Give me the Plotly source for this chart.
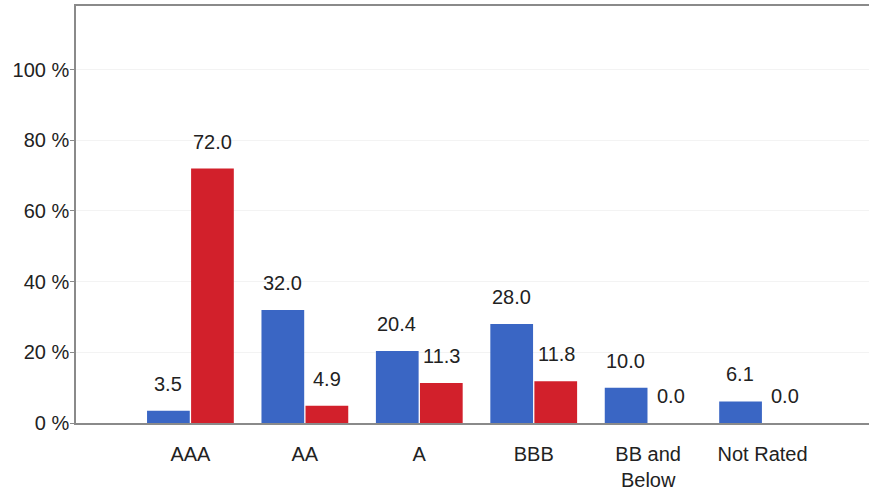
import plotly.graph_objects as go

categories = ["AAA", "AA", "A", "BBB", "BB and<br>Below", "Not Rated"]
series_blue = [3.5, 32.0, 20.4, 28.0, 10.0, 6.1]
series_red = [72.0, 4.9, 11.3, 11.8, 0.0, 0.0]
y_tickvals = [0, 20, 40, 60, 80, 100]
y_ticktext = [f"{v} %" for v in y_tickvals]

BLUE = "#3A66C4"
RED = "#D2202B"
FONT = "Liberation Sans, Arial, sans-serif"

fig = go.Figure()
fig.add_trace(go.Bar(x=categories, y=series_blue, marker=dict(color=BLUE, line=dict(width=0)), name="Blue"))
fig.add_trace(go.Bar(x=categories, y=series_red, marker=dict(color=RED, line=dict(width=0)), name="Red"))

annotations = []
for cat, vb, vr in zip(categories, series_blue, series_red):
    for v, shift in ((vb, -22.5), (vr, 22.5)):
        annotations.append(dict(
            x=cat, y=v, xref="x", yref="y", text=f"{v:.1f}", showarrow=False,
            xshift=shift, yanchor="bottom", yshift=14,
            font=dict(family=FONT, size=20, color="#222222"),
        ))

fig.update_layout(
    width=869, height=497,
    margin=dict(l=76, r=0, t=6, b=74, autoexpand=False),
    paper_bgcolor="white", plot_bgcolor="white",
    barmode="group", bargap=0.23, bargroupgap=0.03,
    showlegend=False,
    font=dict(family=FONT, size=20, color="#222222"),
    annotations=annotations,
)
fig.update_xaxes(
    type="category", range=[-1.0, 5.93], automargin=False,
    showline=True, linecolor="#8a8a8a", linewidth=1.5, mirror=True,
    ticks="", showgrid=False, ticklabelstandoff=12,
    tickfont=dict(family=FONT, size=20, color="#222222"),
)
fig.update_yaxes(
    range=[0, 118], tickmode="array", tickvals=y_tickvals, ticktext=y_ticktext,
    automargin=False,
    showline=True, linecolor="#8a8a8a", linewidth=1.5,
    ticks="outside", ticklen=4, tickcolor="#8a8a8a", ticklabelstandoff=-3,
    showgrid=True, gridcolor="#f3f3f3", zeroline=False,
    tickfont=dict(family=FONT, size=20, color="#222222"),
)

fig.write_html(
    "out.html",
    config={"displayModeBar": False},
    post_script="document.body.style.margin='0';document.body.style.overflow='hidden';",
)
